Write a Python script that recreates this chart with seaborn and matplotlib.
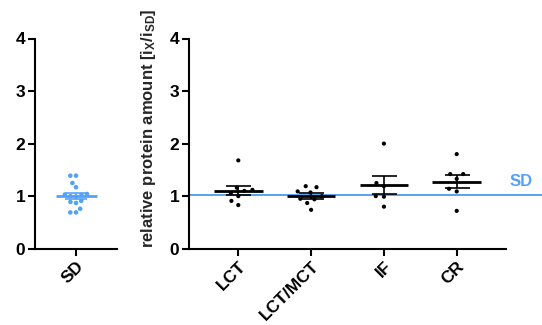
import numpy as np
import pandas as pd
import matplotlib
matplotlib.use("Agg")
import matplotlib.pyplot as plt
import seaborn as sns

# ---- data ----
sd_label = ["SD"]
sd_values = [1.39, 1.39, 1.25, 1.17, 1.03, 1.04, 1.02, 1.00, 0.99,
             0.91, 0.89, 0.87, 0.76, 0.69, 0.69]
groups = ["LCT", "LCT/MCT", "IF", "CR"]
lct = [1.68, 1.16, 1.06, 1.10, 1.12, 1.00, 0.91, 0.83]
lct_mct = [1.19, 1.17, 1.09, 1.07, 1.00, 0.94, 0.95, 0.87, 0.74]
if_vals = [2.00, 1.25, 1.19, 1.00, 0.99, 0.80]
cr = [1.80, 1.42, 1.42, 1.33, 1.14, 1.09, 0.72]
y_ticks = [0, 1, 2, 3, 4]
ref_level = 1.03
ylabel = r"relative protein amount [i$_\mathbf{X}$/i$_\mathbf{SD}$]"

BLUE = "#55a2f5"
W, H = 542, 325

sns.set_theme(style="ticks")
plt.rcParams["font.family"] = ["Liberation Sans", "DejaVu Sans"]
plt.rcParams["font.weight"] = "bold"
plt.rcParams["mathtext.fontset"] = "custom"
plt.rcParams["mathtext.rm"] = "Liberation Sans:bold"
plt.rcParams["mathtext.bf"] = "Liberation Sans:bold"
plt.rcParams["mathtext.it"] = "Liberation Sans:bold"

fig = plt.figure(figsize=(W / 100, H / 100), dpi=100)
bottom = (H - 248.7) / H
height = 210.2 / H
axL = fig.add_axes([35 / W, bottom, 82 / W, height])
axR = fig.add_axes([189 / W, bottom, 317 / W, height])

df_sd = pd.DataFrame({"group": sd_label * len(sd_values), "value": sd_values})
rows = []
for g, vals in zip(groups, [lct, lct_mct, if_vals, cr]):
    rows += [(g, v) for v in vals]
df = pd.DataFrame(rows, columns=["group", "value"])

# reference line behind the right panel
axR.axhline(ref_level, xmin=0, xmax=(W - 189) / 317, color=BLUE, lw=1.4,
            clip_on=False, zorder=1)
fig.text(521 / W, 1 - 181 / H, "SD", color=BLUE, ha="center", va="center",
         fontsize=12, fontweight="bold")

sns.swarmplot(data=df_sd, x="group", y="value", ax=axL, color=BLUE, size=3.3,
              linewidth=0.6, edgecolor="none", zorder=3)
sns.swarmplot(data=df, x="group", y="value", ax=axR, order=groups, color="black",
              size=3.0, linewidth=2.6, edgecolor="none", zorder=3)

def mean_sem(ax, data, order, color, half, capsize):
    for i, g in enumerate(order):
        v = np.asarray(data.loc[data["group"] == g, "value"])
        m = v.mean()
        se = v.std(ddof=1) / np.sqrt(len(v))
        ax.hlines(m, i - half, i + half, color=color, lw=2.0, zorder=4)
        ax.errorbar(i, m, yerr=se, fmt="none", ecolor=color, elinewidth=1.2,
                    capsize=capsize, capthick=1.2, zorder=4)

mean_sem(axL, df_sd, sd_label, BLUE, 0.25, 8)
mean_sem(axR, df, groups, "black", 0.335, 9)

axL.set_xlim(-0.5, 0.5)
axR.set_xlim(-0.677, 3.677)
for ax in (axL, axR):
    ax.set_ylim(0, 4)
    ax.set_yticks(y_ticks)
    ax.set_xlabel("")
    ax.set_ylabel("")
    sns.despine(ax=ax)
    for s in ("left", "bottom"):
        ax.spines[s].set_linewidth(1.5)
        ax.spines[s].set_color("black")
    ax.tick_params(direction="out", length=5, width=1.5, color="black",
                   labelsize=12.5, labelcolor="black", pad=2)
    for lab in ax.get_yticklabels():
        lab.set_fontweight("bold")
    for lab in ax.get_xticklabels():
        lab.set_fontweight("bold")
        lab.set_rotation(45)
        lab.set_ha("right")
        lab.set_rotation_mode("anchor")

axR.set_ylabel(ylabel, fontsize=12, fontweight="bold")
axR.yaxis.set_label_coords((158 - 189) / 317, (248.7 - 128) / 210.2)

fig.savefig("out.png", dpi=100)
